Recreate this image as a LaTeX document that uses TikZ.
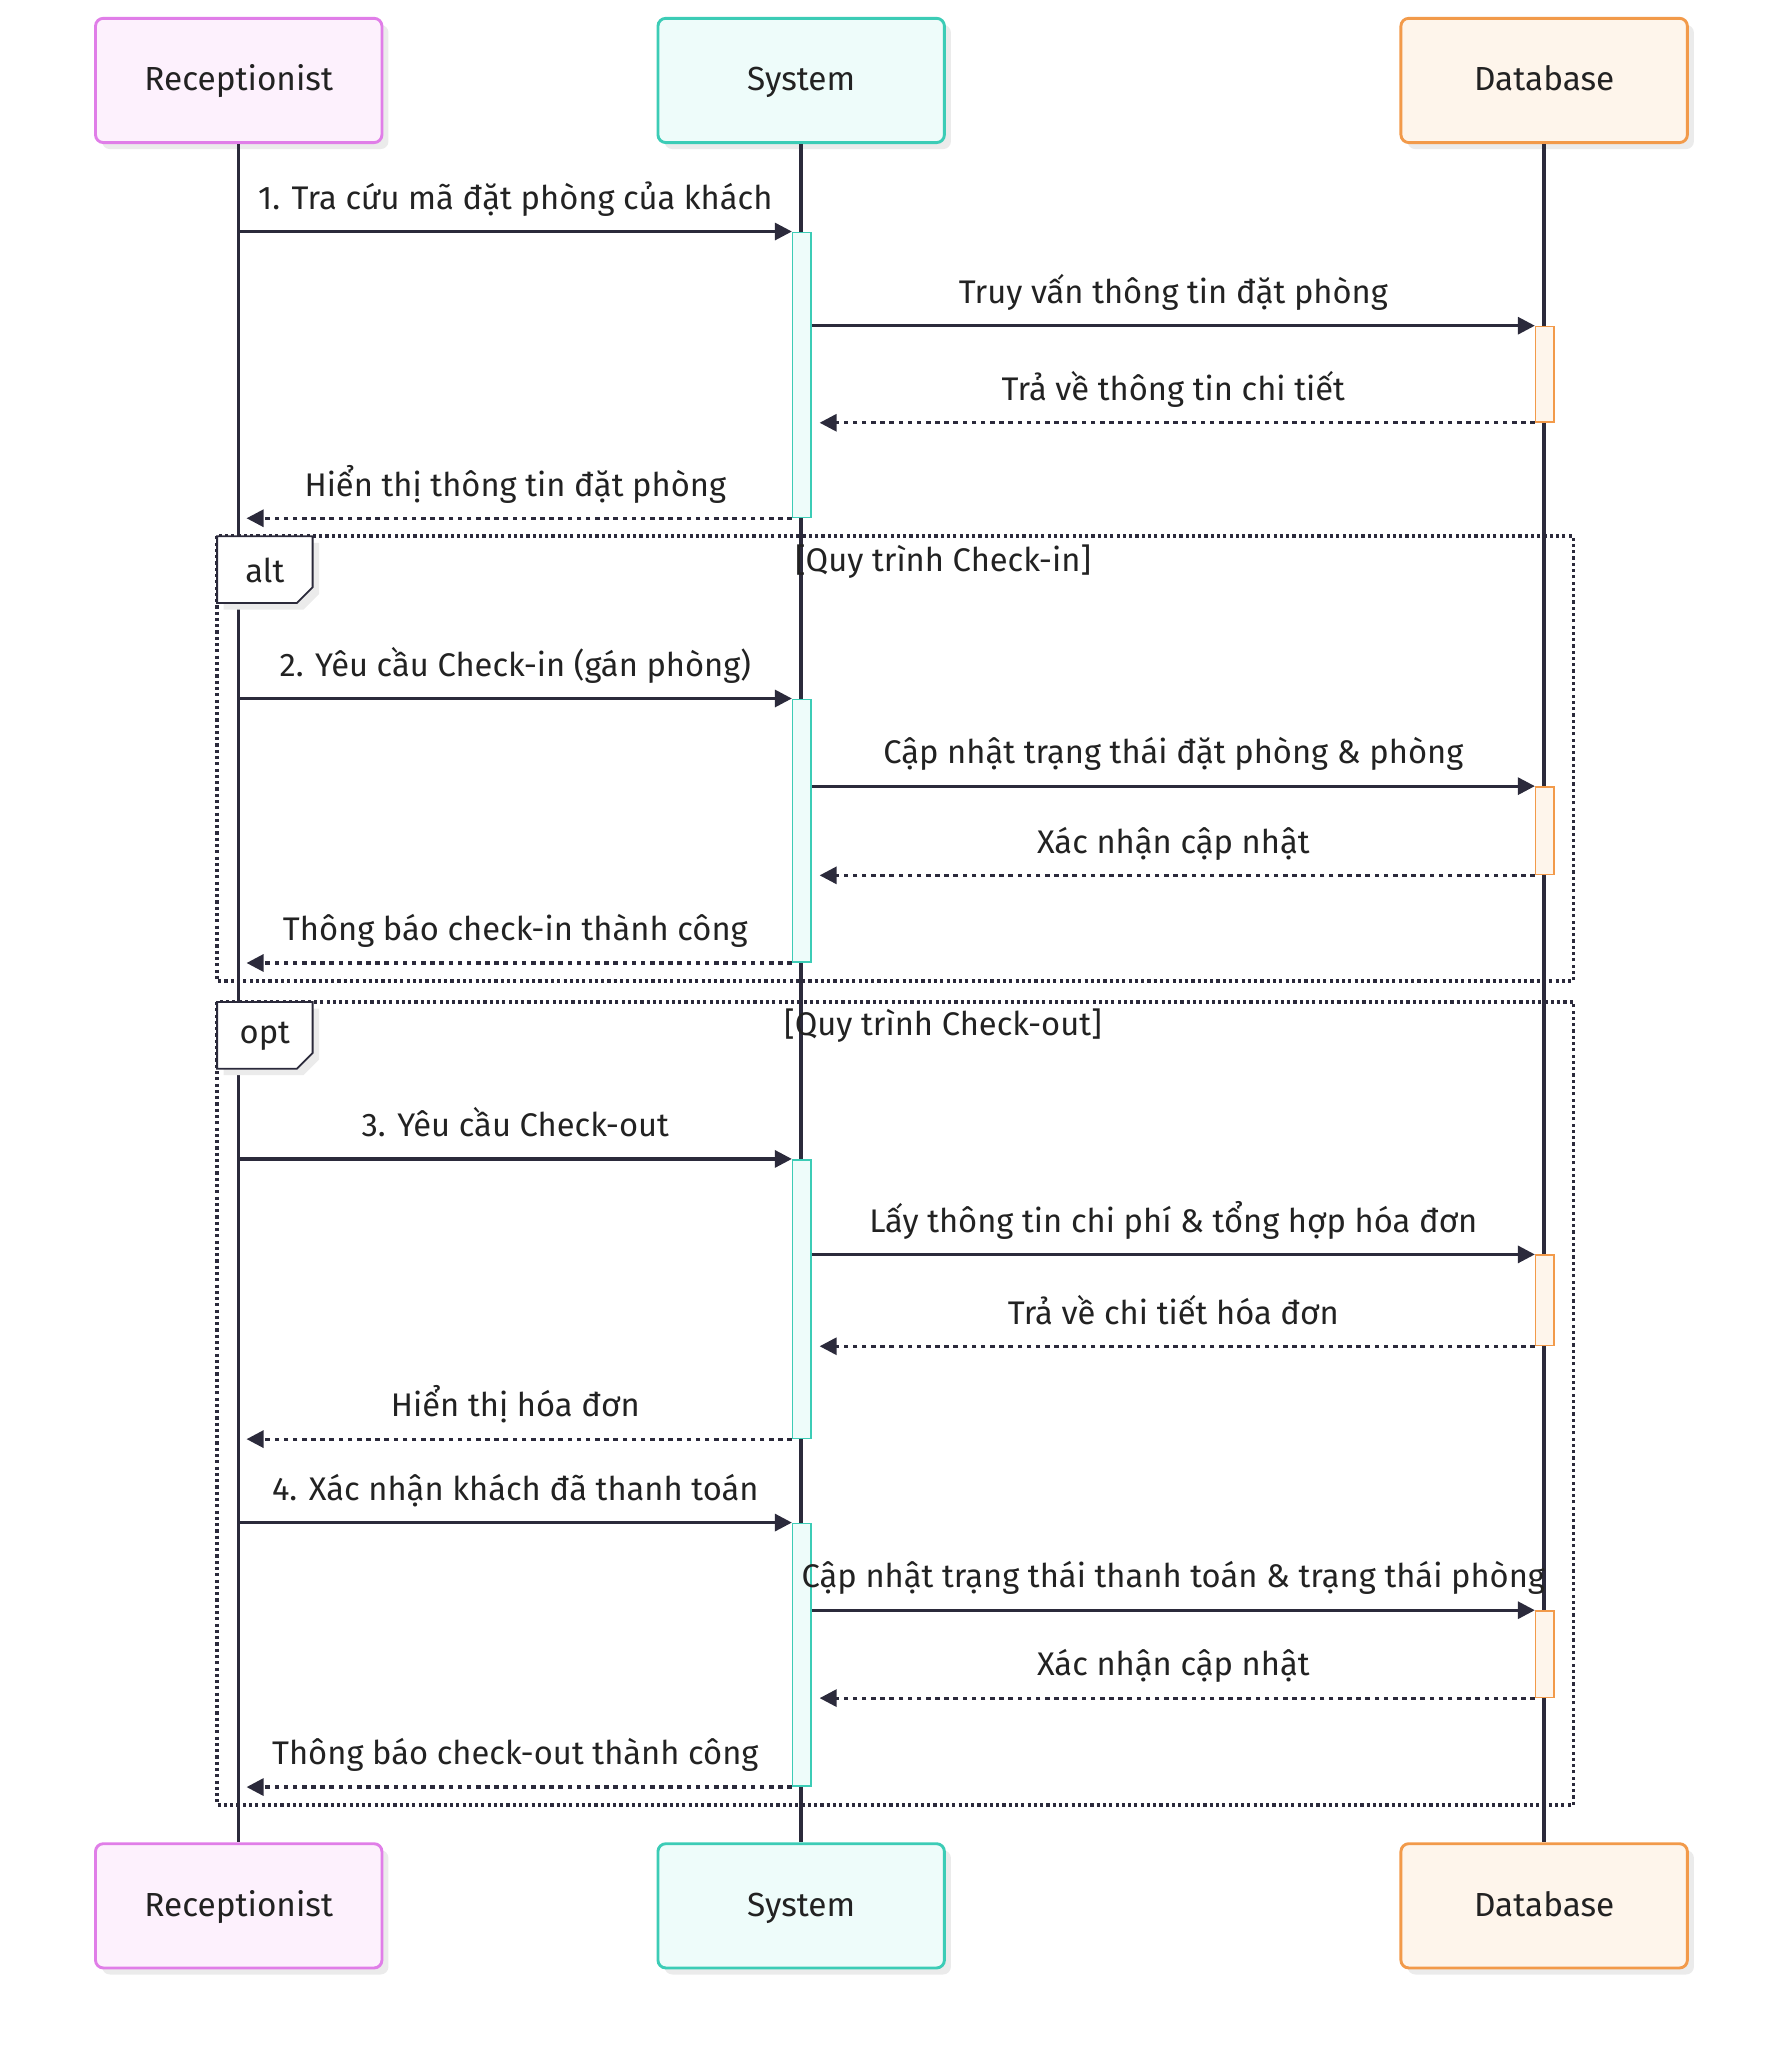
\documentclass[tikz,border=0pt]{standalone}
\usepackage{fontspec}
\setmainfont{Fira Sans}
\usetikzlibrary{positioning,arrows.meta,shadows}

\definecolor{ink}{HTML}{2B2A3B}
\definecolor{txt}{HTML}{222222}
\definecolor{recline}{HTML}{E07EE8}
\definecolor{recfill}{HTML}{FDF1FD}
\definecolor{sysline}{HTML}{3CCCB6}
\definecolor{sysfill}{HTML}{EEFCFA}
\definecolor{dbline}{HTML}{F29A4A}
\definecolor{dbfill}{HTML}{FEF5EB}

\tikzset{
  actor/.style={draw, line width=2.2pt, rounded corners=6pt,
    minimum width=219pt, minimum height=95pt, text=txt,
    font=\fontsize{25.5}{30}\selectfont, text height=20pt, text depth=4pt,
    drop shadow={shadow xshift=5pt, shadow yshift=-5pt, fill=black!8, opacity=1}},
  rec/.style={actor, draw=recline, fill=recfill},
  sys/.style={actor, draw=sysline, fill=sysfill},
  db/.style={actor, draw=dbline, fill=dbfill},
  life/.style={draw=ink, line width=2.6pt},
  sact/.style={draw=sysline, fill=sysfill, line width=1.2pt, minimum width=14pt,
    inner sep=0pt, anchor=north},
  dact/.style={draw=dbline, fill=dbfill, line width=1.2pt, minimum width=14pt,
    inner sep=0pt, anchor=north},
  msg/.style={draw=ink, line width=2.4pt, -{Triangle[length=13pt,width=13pt]}},
  reply/.style={msg, dash pattern=on 3.5pt off 3.5pt, shorten >=6pt},
  lbl/.style={font=\fontsize{25}{30}\selectfont, text=txt, inner sep=0pt,
    anchor=base, yshift=17pt},
  frame/.style={draw=ink, line width=2.8pt, dash pattern=on 2.4pt off 2.4pt},
  tag/.style={draw=ink, line width=1.4pt, fill=white,
    drop shadow={shadow xshift=5pt, shadow yshift=-5pt, fill=black!8, opacity=1}},
  tagtext/.style={font=\fontsize{25}{30}\selectfont, text=txt, inner sep=0pt},
  cond/.style={font=\fontsize{25}{30}\selectfont, text=txt, inner sep=0pt}
}

\begin{document}
\begin{tikzpicture}[x=1pt,y=-1pt]
\useasboundingbox (0,0) rectangle (1365.5,1565.7);

% participants
\node[rec] (rt) at (182.5,61.5) {Receptionist};
\node[sys] (st) [right of=rt,node distance=430pt] {System};
\node[db] (dt) [right of=st,node distance=568pt] {Database};
\node[rec] (rb) [below of=rt,node distance=1395.5pt] {Receptionist};
\node[sys] (sb) [below of=st,node distance=1395.5pt] {System};
\node[db] (db) [below of=dt,node distance=1395.5pt] {Database};

% lifelines
\draw[life] (rt.south) -- (rb.north);
\draw[life] (st.south) -- (sb.north);
\draw[life] (dt.south) -- (db.north);

% frames
\draw[frame] (166,410) rectangle (1203,750);
\draw[tag] (166,410) -- (239,410) -- (239,449) -- (227,461) -- (166,461) -- cycle;
\node[tagtext] (alt) at (202.5,436) {alt};
\node[cond] (altc) at (721,429) {[Quy trình Check-in]};

\draw[frame] (166,766) rectangle (1203,1380);
\draw[tag] (166,766) -- (239,766) -- (239,805) -- (227,817) -- (166,817) -- cycle;
\node[tagtext] (opt) at (202.5,792) {opt};
\node[cond] (optc) at (721,784) {[Quy trình Check-out]};

% activations
\node[sact,minimum height=218pt] (sa1) at (613,177) {};
\node[dact,minimum height=73pt] (da1) at (1181,249) {};
\node[sact,minimum height=201pt] (sa2) at (613,534) {};
\node[dact,minimum height=67pt] (da2) at (1181,601) {};
\node[sact,minimum height=213pt] (sa3) at (613,886) {};
\node[dact,minimum height=69pt] (da3) at (1181,959) {};
\node[sact,minimum height=201pt] (sa4) at (613,1164) {};
\node[dact,minimum height=66pt] (da4) at (1181,1231) {};

% lookup
\draw[msg] (rt |- sa1.north) -- node[lbl] {1. Tra cứu mã đặt phòng của khách} (sa1.north west);
\draw[msg] (sa1.east |- da1.north) -- node[lbl] {Truy vấn thông tin đặt phòng} (da1.north west);
\draw[reply] (da1.south west) -- node[lbl] {Trả về thông tin chi tiết} (sa1.east |- da1.south);
\draw[reply] (sa1.south west) -- node[lbl] {Hiển thị thông tin đặt phòng} (rt |- sa1.south);

% check-in
\draw[msg] (rt |- sa2.north) -- node[lbl] {2. Yêu cầu Check-in (gán phòng)} (sa2.north west);
\draw[msg] (sa2.east |- da2.north) -- node[lbl] {Cập nhật trạng thái đặt phòng \& phòng} (da2.north west);
\draw[reply] (da2.south west) -- node[lbl] {Xác nhận cập nhật} (sa2.east |- da2.south);
\draw[reply] (sa2.south west) -- node[lbl] {Thông báo check-in thành công} (rt |- sa2.south);

% check-out
\draw[msg] (rt |- sa3.north) -- node[lbl] {3. Yêu cầu Check-out} (sa3.north west);
\draw[msg] (sa3.east |- da3.north) -- node[lbl] {Lấy thông tin chi phí \& tổng hợp hóa đơn} (da3.north west);
\draw[reply] (da3.south west) -- node[lbl] {Trả về chi tiết hóa đơn} (sa3.east |- da3.south);
\draw[reply] (sa3.south west) -- node[lbl] {Hiển thị hóa đơn} (rt |- sa3.south);

\draw[msg] (rt |- sa4.north) -- node[lbl] {4. Xác nhận khách đã thanh toán} (sa4.north west);
\draw[msg] (sa4.east |- da4.north) -- node[lbl] {Cập nhật trạng thái thanh toán \& trạng thái phòng} (da4.north west);
\draw[reply] (da4.south west) -- node[lbl] {Xác nhận cập nhật} (sa4.east |- da4.south);
\draw[reply] (sa4.south west) -- node[lbl] {Thông báo check-out thành công} (rt |- sa4.south);
\end{tikzpicture}
\end{document}
